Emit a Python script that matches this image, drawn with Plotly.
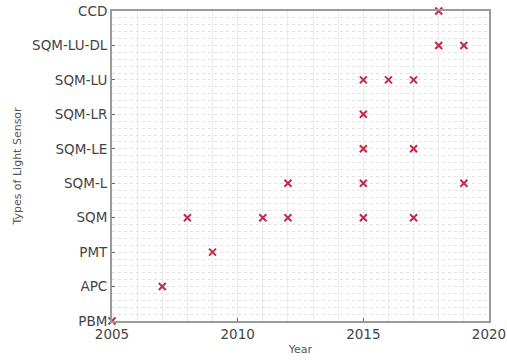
import plotly.graph_objects as go

categories = ["PBM", "APC", "PMT", "SQM", "SQM-L", "SQM-LE", "SQM-LR", "SQM-LU", "SQM-LU-DL", "CCD"]
years = {
    "PBM": [2005],
    "APC": [2007],
    "PMT": [2009],
    "SQM": [2008, 2011, 2012, 2015, 2017],
    "SQM-L": [2012, 2015, 2019],
    "SQM-LE": [2015, 2017],
    "SQM-LR": [2015],
    "SQM-LU": [2015, 2016, 2017],
    "SQM-LU-DL": [2018, 2019],
    "CCD": [2018],
}
x_ticks = [2005, 2010, 2015, 2020]

xs, ys = [], []
for i, c in enumerate(categories):
    for yr in years[c]:
        xs.append(yr)
        ys.append(i)

fig = go.Figure()
fig.add_trace(go.Scatter(
    x=xs, y=ys, mode="markers",
    marker=dict(symbol="x-thin", size=7, line=dict(width=2, color="#c4284a"), color="#c4284a"),
    cliponaxis=False, showlegend=False,
))

fig.update_layout(
    width=507, height=360,
    margin=dict(l=112, r=18, t=11, b=39),
    plot_bgcolor="white", paper_bgcolor="white",
    font=dict(family="DejaVu Sans", color="#444444", size=13),
    xaxis=dict(
        range=[2005, 2020], tickvals=x_ticks, ticktext=[str(v) for v in x_ticks],
        automargin=False,
        showline=True, linecolor="#9a9a9a", linewidth=2, mirror=True,
        ticks="inside", ticklen=3, tickcolor="#666666",
        showgrid=True, gridcolor="#ececec", gridwidth=1,
        minor=dict(dtick=1, showgrid=True, gridcolor="#ececec"),
        zeroline=False,
        title=dict(text="Year", font=dict(size=11, color="#555555"), standoff=4),
        tickfont=dict(size=13.5, color="#444444"),
    ),
    yaxis=dict(
        range=[0, 9], tickvals=list(range(10)), ticktext=categories,
        automargin=False,
        showline=True, linecolor="#9a9a9a", linewidth=2, mirror=True,
        ticks="inside", ticklen=3, tickcolor="#666666",
        showgrid=True, gridcolor="#e2e2e2", griddash="dot", gridwidth=1,
        minor=dict(dtick=0.2, tick0=0, showgrid=True, gridcolor="#e2e2e2", griddash="dot"),
        zeroline=False,
        title=dict(text="Types of Light Sensor", font=dict(size=11, color="#555555"), standoff=8),
        tickfont=dict(size=13.5, color="#444444"),
    ),
)

fig.write_html("out.html", config={"displayModeBar": False},
               post_script="document.body.style.margin='0';")
